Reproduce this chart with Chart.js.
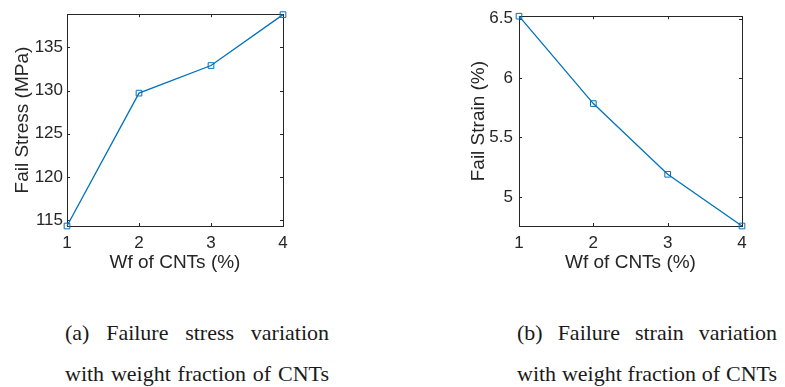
<!DOCTYPE html>
<html>
<head>
<meta charset="utf-8">
<script src="https://cdn.jsdelivr.net/npm/chart.js@4"></script>
<style>
  html, body { margin: 0; padding: 0; background: #fff; }
  body { width: 785px; height: 387px; position: relative; overflow: hidden; }
  .plot { position: absolute; top: 0; }
  .cap {
    position: absolute; top: 312px;
    font-family: "Liberation Serif", serif; font-size: 22px; line-height: 41px;
    color: #1a1a1a;
  }
  .cap div { text-align: justify; text-align-last: justify; white-space: nowrap; }
</style>
</head>
<body>
<div class="plot" style="left:0;width:300px;height:280px"><canvas id="chStress"></canvas></div>
<div class="plot" style="left:452px;width:333px;height:280px"><canvas id="chStrain"></canvas></div>
<div class="cap" style="left:65px;width:264px"><div>(a) Failure stress variation</div><div>with weight fraction of CNTs</div></div>
<div class="cap" style="left:517px;width:260px"><div>(b) Failure strain variation</div><div>with weight fraction of CNTs</div></div>
<script>
(function () {
  "use strict";

  var wf = [1, 2, 3, 4];
  var failStress = [114.3, 129.7, 132.9, 138.8];
  var failStrain = [6.52, 5.785, 5.19, 4.755];
  var xTicks = [1, 2, 3, 4];
  var stressTicks = [115, 120, 125, 130, 135];
  var strainTicks = [5, 5.5, 6, 6.5];

  var AZUL = "#0072BD";
  var TINTA = "#262626";

  // moldura e ticks para dentro, estilo MATLAB
  var moldura = {
    id: "moldura",
    beforeDatasetsDraw: function (chart) {
      var a = chart.chartArea, ctx = chart.ctx, tl = 3;
      ctx.save();
      ctx.strokeStyle = TINTA;
      ctx.lineWidth = 1;
      ctx.strokeRect(Math.round(a.left) + 0.5, Math.round(a.top) + 0.5, Math.round(a.right - a.left), Math.round(a.bottom - a.top));
      ctx.beginPath();
      chart.scales.x.ticks.forEach(function (t) {
        var px = Math.round(chart.scales.x.getPixelForValue(t.value)) + 0.5;
        ctx.moveTo(px, a.bottom); ctx.lineTo(px, a.bottom - tl);
        ctx.moveTo(px, a.top); ctx.lineTo(px, a.top + tl);
      });
      chart.scales.y.ticks.forEach(function (t) {
        var py = Math.round(chart.scales.y.getPixelForValue(t.value)) + 0.5;
        ctx.moveTo(a.left, py); ctx.lineTo(a.left + tl, py);
        ctx.moveTo(a.right, py); ctx.lineTo(a.right - tl, py);
      });
      ctx.stroke();
      ctx.restore();
    }
  };

  function fixos(lista) {
    return function (s) { s.ticks = lista.map(function (v) { return { value: v }; }); };
  }
  function rotulo(v) { return String(v); }

  function criar(id, ys, yMin, yMax, yTicks, yTitulo, tituloPad, tickPad, padDir) {
    new Chart(document.getElementById(id), {
      type: "line",
      data: {
        datasets: [{
          data: wf.map(function (x, i) { return { x: x, y: ys[i] }; }),
          borderColor: AZUL, borderWidth: 1.3, tension: 0,
          pointStyle: "rect", pointRadius: 4, pointBorderWidth: 1,
          pointBorderColor: AZUL, pointBackgroundColor: "rgba(0,0,0,0)",
          clip: false
        }]
      },
      options: {
        responsive: true, maintainAspectRatio: false, animation: false,
        layout: { padding: { left: 0, top: 13, right: padDir, bottom: 4 } },
        plugins: { legend: { display: false }, tooltip: { enabled: false } },
        scales: {
          x: {
            type: "linear", min: 1, max: 4,
            afterBuildTicks: fixos(xTicks),
            afterFit: function (s) { s.height = 50; },
            grid: { display: false, drawTicks: false }, border: { display: false },
            ticks: { color: TINTA, padding: 7, callback: rotulo, font: { family: "Liberation Sans", size: 17 } },
            title: { display: true, text: "Wf of CNTs (%)", color: TINTA, padding: { top: 0, bottom: 1.6 }, font: { family: "Liberation Sans", size: 19 } }
          },
          y: {
            type: "linear", min: yMin, max: yMax,
            afterBuildTicks: fixos(yTicks),
            afterFit: function (s) { s.width = 67; },
            grid: { display: false, drawTicks: false }, border: { display: false },
            ticks: { color: TINTA, padding: tickPad, callback: rotulo, font: { family: "Liberation Sans", size: 17 } },
            title: { display: true, text: yTitulo, color: TINTA, padding: { top: tituloPad, bottom: 0 }, font: { family: "Liberation Sans", size: 19 } }
          }
        }
      },
      plugins: [moldura]
    });
  }

  criar("chStress", failStress, 114.3, 138.85, stressTicks, "Fail Stress (MPa)", 11.5, 4, 17);
  criar("chStrain", failStrain, 4.755, 6.52, strainTicks, "Fail Strain (%)", 15.6, 6, 43);
})();
</script>
</body>
</html>
